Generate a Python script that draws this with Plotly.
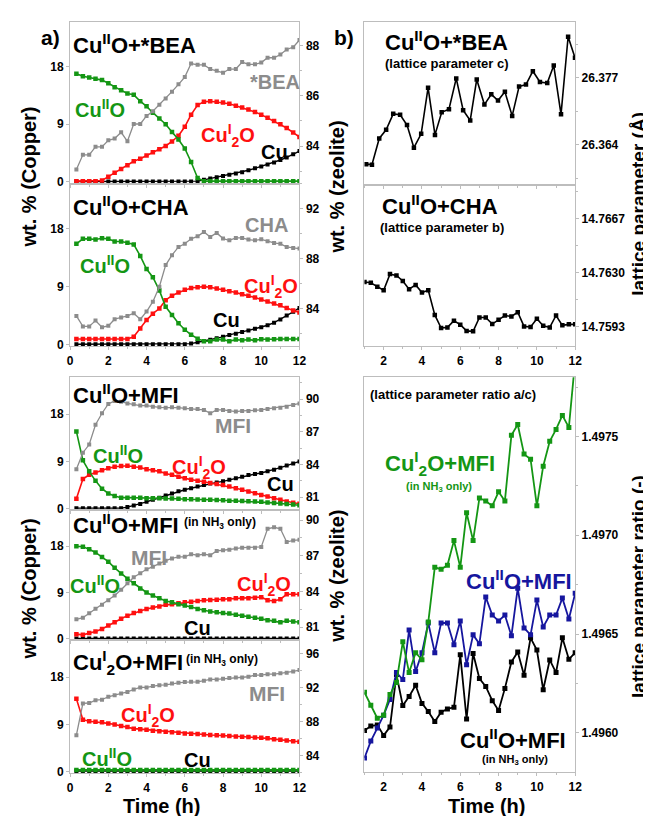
import plotly.graph_objects as go

# ---------------- data ----------------
T_LEFT = [0.33, 0.67, 1.0, 1.33, 1.67, 2.0, 2.33, 2.67, 3.0, 3.33, 3.67, 4.0,
          4.33, 4.67, 5.0, 5.33, 5.67, 6.0, 6.33, 6.67, 7.0, 7.33, 7.67, 8.0,
          8.33, 8.67, 9.0, 9.33, 9.67, 10.0, 10.33, 10.67, 11.0, 11.33, 11.67, 12.0]
T_RIGHT = [1.0, 1.33, 1.67, 2.0, 2.33, 2.67, 3.0, 3.33, 3.67, 4.0,
           4.33, 4.67, 5.0, 5.33, 5.67, 6.0, 6.33, 6.67, 7.0, 7.33, 7.67, 8.0,
           8.33, 8.67, 9.0, 9.33, 9.67, 10.0, 10.33, 10.67, 11.0, 11.33, 11.67, 12.0]
T_B1 = [1.09, 1.39, 1.77, 2.13, 2.50, 2.86, 3.22, 3.58, 3.96, 4.32, 4.68, 5.03,
        5.41, 5.79, 6.15, 6.52, 6.86, 7.26, 7.62, 7.97, 8.33, 8.71, 9.07, 9.43,
        9.79, 10.16, 10.54, 10.88, 11.26, 11.63, 11.99]

# Panel 1: CuIIO + *BEA
BEA_CUO = [16.9, 16.5, 16.3, 16.1, 15.9, 15.4, 14.8, 14.3, 13.8, 13.6, 12.6, 11.8,
           10.8, 9.9, 9.0, 7.8, 6.6, 5.2, 3.1, 0.6, 0.1, 0.1, 0.1, 0.1,
           0.1, 0.1, 0.1, 0.1, 0.1, 0.1, 0.1, 0.1, 0.1, 0.1, 0.1, 0.1]
BEA_CU2O = [0.1, 0.1, 0.1, 0.1, 0.2, 0.8, 1.4, 2.0, 2.6, 3.2, 3.6, 4.1,
            4.6, 5.1, 5.6, 6.3, 7.2, 8.6, 10.5, 12.0, 12.5, 12.6, 12.5, 12.4,
            12.2, 11.9, 11.6, 11.3, 10.9, 10.5, 10.0, 9.5, 9.0, 8.4, 7.7, 7.0]
BEA_CU = [0.05, 0.05, 0.05, 0.05, 0.05, 0.05, 0.05, 0.05, 0.05, 0.05, 0.05, 0.05,
          0.05, 0.05, 0.05, 0.05, 0.05, 0.05, 0.05, 0.1, 0.3, 0.5, 0.7, 0.9,
          1.1, 1.3, 1.5, 1.8, 2.1, 2.4, 2.7, 3.0, 3.4, 3.8, 4.3, 4.8]
BEA_ZEO = [83.07, 83.65, 83.65, 83.97, 83.97, 84.23, 84.30, 84.55, 84.19, 84.88, 84.88, 85.2,
           85.39, 85.65, 85.9, 86.17, 86.46, 86.75, 87.29, 87.24, 87.24, 87.07, 87.0, 86.92,
           87.07, 87.07, 87.35, 87.26, 87.26, 87.33, 87.52, 87.52, 87.65, 87.85, 87.94, 88.23]

# Panel 2: CuIIO + CHA
CHA_CUO = [15.66, 16.43, 16.43, 16.33, 16.53, 16.43, 16.02, 16.02, 15.82, 15.56, 13.78, 11.73,
           10.46, 8.42, 5.87, 4.59, 3.32, 2.3, 1.53, 0.92, 0.51, 0.51, 0.77, 0.77,
           0.51, 0.77, 0.66, 0.77, 0.66, 0.82, 0.77, 0.82, 0.87, 0.87, 0.87, 0.87]
CHA_CU2O = [0.87, 0.87, 0.87, 0.87, 0.87, 0.87, 0.87, 0.87, 0.87, 1.2, 2.5, 3.8,
            4.8, 5.6, 6.9, 7.6, 8.1, 8.5, 8.8, 8.9, 9.0, 8.9, 8.7, 8.5,
            8.3, 8.1, 7.8, 7.6, 7.3, 7.0, 6.7, 6.4, 6.1, 5.7, 5.3, 5.0]
CHA_CU = [0.05, 0.05, 0.05, 0.05, 0.05, 0.05, 0.05, 0.05, 0.05, 0.05, 0.05, 0.05,
          0.05, 0.05, 0.05, 0.05, 0.05, 0.05, 0.15, 0.35, 0.55, 0.75, 1.0, 1.2,
          1.5, 1.7, 1.95, 2.2, 2.45, 2.7, 3.0, 3.4, 3.9, 4.5, 5.1, 5.7]
CHA_ZEO = [83.44, 82.6, 82.6, 83.07, 82.54, 82.65, 83.18, 83.31, 83.44, 83.66, 83.18, 83.79,
           84.58, 85.77, 87.5, 88.29, 88.95, 89.2, 89.6, 89.8, 90.15, 89.75, 90.07, 89.62,
           89.48, 89.67, 89.67, 89.54, 89.48, 89.56, 89.4, 89.27, 89.2, 88.95, 88.87, 88.82]

# Panel 3: CuIIO + MFI
MFI_CUO = [14.7, 9.2, 7.1, 5.3, 3.8, 2.9, 2.4, 2.1, 2.1, 2.1, 2.1, 2.0,
           2.0, 2.0, 1.95, 1.95, 1.9, 1.8, 1.8, 1.75, 1.7, 1.7, 1.65, 1.6,
           1.5, 1.5, 1.45, 1.4, 1.35, 1.3, 1.2, 1.1, 1.0, 0.9, 0.8, 0.65]
MFI_CU2O = [1.88, 5.65, 6.46, 6.9, 7.3, 7.7, 7.97, 8.1, 8.16, 7.97, 7.84, 7.5,
            7.3, 7.1, 6.7, 6.46, 6.1, 5.77, 5.5, 5.33, 5.14, 4.9, 4.7, 4.5,
            4.2, 3.9, 3.6, 3.26, 2.95, 2.6, 2.3, 2.0, 1.7, 1.38, 1.13, 0.94]
MFI_CU = [0.1, 0.1, 0.1, 0.1, 0.1, 0.1, 0.1, 0.1, 0.3, 0.6, 0.9, 1.3,
          1.7, 2.1, 2.5, 2.9, 3.3, 3.6, 3.9, 4.2, 4.5, 4.8, 5.0, 5.2,
          5.5, 5.8, 6.1, 6.4, 6.6, 6.8, 7.1, 7.4, 7.8, 8.2, 8.6, 9.0]
MFI_ZEO = [83.56, 85.08, 85.83, 87.64, 88.7, 89.55, 89.82, 89.76, 89.6, 89.52, 89.4, 89.4,
           89.3, 89.24, 89.21, 89.24, 89.21, 89.15, 89.09, 89.09, 89.0, 88.7, 89.0, 89.0,
           88.91, 88.85, 88.91, 88.91, 88.97, 89.0, 89.09, 89.15, 89.21, 89.3, 89.46, 89.6]

# Panel 4: CuIIO + MFI (in NH3 only)
NH3_CUO = [18.0, 17.9, 17.4, 16.8, 15.9, 15.0, 13.8, 12.7, 11.7, 10.8, 9.8, 9.0,
           8.4, 7.9, 7.35, 7.1, 6.7, 6.45, 6.2, 5.8, 5.55, 5.3, 5.16, 5.03,
           4.9, 4.65, 4.5, 4.3, 4.1, 3.9, 3.6, 3.5, 3.2, 3.5, 3.35, 3.2]
NH3_CU2O = [0.9, 0.77, 1.1, 1.4, 1.9, 2.6, 3.2, 3.9, 4.5, 5.0, 5.4, 5.8,
            6.1, 6.26, 6.6, 6.7, 6.9, 7.1, 7.2, 7.35, 7.5, 7.55, 7.6, 7.7,
            7.7, 7.87, 7.87, 7.87, 8.0, 8.1, 7.5, 7.35, 7.7, 8.65, 8.65, 8.65]
NH3_CU = [0.05, 0.05, 0.05, 0.05, 0.05, 0.05, 0.05, 0.05, 0.05, 0.05, 0.05, 0.05,
          0.05, 0.05, 0.05, 0.05, 0.05, 0.05, 0.05, 0.05, 0.05, 0.05, 0.05, 0.05,
          0.05, 0.05, 0.05, 0.05, 0.05, 0.05, 0.05, 0.05, 0.05, 0.05, 0.05, 0.05]
NH3_ZEO = [81.67, 81.8, 82.17, 82.55, 82.9, 83.27, 83.66, 84.15, 84.7, 85.2, 85.54, 85.87,
           86.09, 86.36, 86.59, 86.78, 86.92, 86.92, 87.14, 87.05, 87.14, 87.05, 87.41, 87.47,
           87.52, 87.61, 87.69, 87.69, 87.69, 87.75, 89.27, 89.4, 89.27, 88.16, 88.3, 88.35]

# Panel 5: CuI2O + MFI (in NH3 only)
C1_CUO = [0.35, 0.35, 0.35, 0.35, 0.35, 0.35, 0.35, 0.35, 0.35, 0.35, 0.35, 0.35,
          0.35, 0.35, 0.35, 0.35, 0.35, 0.35, 0.35, 0.35, 0.35, 0.35, 0.35, 0.35,
          0.35, 0.35, 0.35, 0.35, 0.35, 0.35, 0.35, 0.35, 0.35, 0.35, 0.35, 0.35]
C1_CU2O = [13.9, 9.9, 9.6, 9.5, 9.4, 9.2, 9.0, 8.7, 8.5, 8.2, 8.1, 8.0,
           7.8, 7.7, 7.6, 7.5, 7.4, 7.3, 7.25, 7.2, 7.1, 7.0, 6.95, 6.9,
           6.8, 6.7, 6.65, 6.6, 6.5, 6.45, 6.35, 6.2, 6.1, 5.95, 5.8, 5.7]
C1_CU = [0.15, 0.15, 0.15, 0.15, 0.15, 0.15, 0.15, 0.15, 0.15, 0.15, 0.15, 0.15,
         0.15, 0.15, 0.15, 0.15, 0.15, 0.15, 0.15, 0.15, 0.15, 0.15, 0.15, 0.15,
         0.15, 0.15, 0.15, 0.15, 0.15, 0.15, 0.15, 0.15, 0.15, 0.15, 0.15, 0.15]
C1_ZEO = [86.4, 90.15, 90.2, 90.54, 90.6, 90.94, 91.13, 91.33, 91.5, 91.8, 92.04, 92.04,
          92.2, 92.3, 92.35, 92.5, 92.58, 92.67, 92.7, 92.7, 92.83, 92.98, 92.98, 93.06,
          93.14, 93.22, 93.22, 93.3, 93.5, 93.5, 93.6, 93.6, 93.7, 93.78, 93.93, 94.09]

# b) lattice parameters
BEA_C = [26.3602, 26.3601, 26.3652, 26.3669, 26.3700, 26.3698, 26.3678, 26.3634, 26.3661,
         26.3751, 26.3659, 26.3703, 26.3709, 26.3769, 26.3707, 26.3687, 26.3767, 26.3718,
         26.3738, 26.3726, 26.3743, 26.3696, 26.3753, 26.3757, 26.3783, 26.3762, 26.3760,
         26.3794, 26.3699, 26.3850, 26.3809]
CHA_B = [14.76237, 14.76232, 14.76205, 14.76180, 14.76291, 14.76282, 14.76244, 14.76187,
         14.76217, 14.76165, 14.76180, 14.76011, 14.75921, 14.75925, 14.75971, 14.75944,
         14.75901, 14.75898, 14.75993, 14.75993, 14.75948, 14.75977, 14.76007, 14.76000,
         14.76029, 14.75932, 14.75928, 14.75984, 14.75937, 14.75925, 14.76007, 14.75939,
         14.75946, 14.75946]
RATIO_CU2O_NH3 = [1.496205, 1.496139, 1.496074, 1.496089, 1.496194, 1.496255, 1.496461, 1.496305,
                  1.496406, 1.496370, 1.496561, 1.496838, 1.496828, 1.496848, 1.496973, 1.496838,
                  1.497114, 1.496973, 1.497189, 1.497174, 1.497149, 1.497220, 1.497174, 1.497506,
                  1.497561, 1.497411, 1.497385, 1.497149, 1.497350, 1.497476, 1.497536, 1.497607,
                  1.497546, 1.497888]
RATIO_CUO = [1.495873, 1.495958, 1.496024, 1.496089, 1.496169, 1.496305, 1.496270, 1.496521,
             1.496310, 1.496406, 1.496556, 1.496406, 1.496556, 1.496556, 1.496446, 1.496566,
             1.496345, 1.496496, 1.496451, 1.496687, 1.496596, 1.496566, 1.496596, 1.496491,
             1.496732, 1.496531, 1.496496, 1.496672, 1.496536, 1.496596, 1.496596, 1.496682,
             1.496576, 1.496707]
RATIO_CUO_NH3 = [1.496012, 1.496034, 1.496040, 1.495987, 1.496029, 1.496295, 1.496138, 1.496184,
                 1.496241, 1.496149, 1.496108, 1.496057, 1.496104, 1.496121, 1.496129, 1.496395,
                 1.496070, 1.496402, 1.496275, 1.496235, 1.496163, 1.496113, 1.496225, 1.496359,
                 1.496409, 1.496291, 1.496481, 1.496419, 1.496218, 1.496369, 1.496305, 1.496481,
                 1.496372, 1.496406]

# ---------------- layout helpers ----------------
W, H = 651, 816
FONT = "Liberation Sans, Arial, sans-serif"
GREEN = "#149614"
RED = "#ff1010"
BLACK = "#000000"
GREY = "#8c8c8c"
BLUE = "#16169e"
FRAME = "#bdbdbd"


def fx(p):
    return p / W


def fy(p):
    return 1 - p / H


fig = go.Figure()


def add(x, y, xa, ya, color, size=4.5, width=1.6):
    fig.add_trace(go.Scatter(
        x=x, y=y, xaxis=xa, yaxis=ya, mode="lines+markers",
        line=dict(color=color, width=width),
        marker=dict(symbol="square", size=size, color=color, line=dict(width=0)),
        showlegend=False, hoverinfo="skip"))


tickfont = dict(family=FONT, size=12, color="black", weight="bold")
base = dict(showline=True, linecolor=FRAME, linewidth=1, showgrid=False, zeroline=False,
            ticks="outside", ticklen=3, tickcolor=FRAME, tickfont=tickfont)

LX = [60, 293]
RX = [359, 573]
LEFT_PANELS = [
    # top, bottom, right range, tick0, dtick, show x labels
    (14, 177, [82.5, 88.95], 84, 2, False),
    (177, 341, [81, 94], 84, 4, True),
    (372, 506, [79.8, 92], 81, 3, False),
    (506, 637, [79.9, 90.83], 81, 3, False),
    (637, 771, [81.9, 97.6], 84, 4, True),
]
layout = dict(width=W, height=H, margin=dict(l=0, r=0, t=0, b=0), autosize=False,
              paper_bgcolor="white", plot_bgcolor="rgba(0,0,0,0)", showlegend=False)

for i, (top, bot, rr, t0, dt, showx) in enumerate(LEFT_PANELS):
    xi = i + 1
    yl = 2 * i + 1
    yr = 2 * i + 2
    dom = [fy(bot), fy(top)]
    layout["xaxis" + (str(xi) if xi > 1 else "")] = dict(
        base, domain=[fx(LX[0]), fx(LX[1])], anchor="y" + (str(yl) if yl > 1 else ""),
        range=[0, 12], dtick=2, tick0=0, showticklabels=showx, mirror=True,
        minor=dict(dtick=1, tick0=0, ticks="outside", ticklen=2, tickcolor=FRAME))
    layout["yaxis" + (str(yl) if yl > 1 else "")] = dict(
        base, domain=dom, anchor="x" + (str(xi) if xi > 1 else ""), range=[-0.3, 25],
        tickmode="array", tickvals=[0, 9, 18], mirror=True)
    layout["yaxis" + str(yr)] = dict(
        base, domain=dom, anchor="x" + (str(xi) if xi > 1 else ""),
        overlaying="y" + (str(yl) if yl > 1 else ""), side="right", range=rr,
        tick0=t0, dtick=dt, minor=dict(tick0=t0, dtick=dt / 2, ticks="outside", ticklen=2, tickcolor=FRAME))

RIGHT_PANELS = [
    (14, 178, [26.3562, 26.3879], 26.364, 0.013, ".3f", False),
    (178, 341, [14.75794, 14.76905], 14.7593, 0.0037, ".4f", True),
    (372, 770, [1.4958, 1.4978], 1.4960, 0.0005, ".4f", True),
]
for j, (top, bot, rr, t0, dt, fmt, showx) in enumerate(RIGHT_PANELS):
    xi = 6 + j
    yi = 11 + j
    dom = [fy(bot), fy(top)]
    layout["xaxis" + str(xi)] = dict(
        base, domain=[fx(RX[0]), fx(RX[1])], anchor="y" + str(yi), range=[1, 12],
        tick0=0, dtick=2, showticklabels=showx, mirror=True,
        minor=dict(dtick=1, tick0=0, ticks="outside", ticklen=2, tickcolor=FRAME))
    layout["yaxis" + str(yi)] = dict(
        base, domain=dom, anchor="x" + str(xi), side="right", range=rr, tick0=t0, dtick=dt,
        tickformat=fmt, mirror=True,
        minor=dict(tick0=t0, dtick=dt / 2, ticks="outside", ticklen=2, tickcolor=FRAME))

fig.update_layout(**layout)

# ---------------- traces ----------------
PANEL_DATA = [
    (BEA_ZEO, BEA_CUO, BEA_CU2O, BEA_CU),
    (CHA_ZEO, CHA_CUO, CHA_CU2O, CHA_CU),
    (MFI_ZEO, MFI_CUO, MFI_CU2O, MFI_CU),
    (NH3_ZEO, NH3_CUO, NH3_CU2O, NH3_CU),
    (C1_ZEO, C1_CUO, C1_CU2O, C1_CU),
]
for i, (zeo, cuo, cu2o, cu) in enumerate(PANEL_DATA):
    xa = "x" + (str(i + 1) if i > 0 else "")
    yl = "y" + (str(2 * i + 1) if i > 0 else "")
    yr = "y" + str(2 * i + 2)
    add(T_LEFT, zeo, xa, yr, GREY, size=4, width=1.3)
    add(T_LEFT, cu, xa, yl, BLACK, size=4, width=1.4)
    add(T_LEFT, cu2o, xa, yl, RED)
    add(T_LEFT, cuo, xa, yl, GREEN)

add(T_B1, BEA_C, "x6", "y11", BLACK, size=4.5, width=1.6)
add(T_RIGHT, CHA_B, "x7", "y12", BLACK, size=4.5, width=1.6)
add(T_RIGHT, RATIO_CUO_NH3, "x8", "y13", BLACK, size=5, width=1.8)
add(T_RIGHT, RATIO_CUO, "x8", "y13", BLUE, size=5, width=1.8)
add(T_RIGHT, RATIO_CU2O_NH3, "x8", "y13", GREEN, size=5, width=1.8)

# ---------------- text ----------------
ann = []


def text(t, x, y, size, color="black", anchor="left", angle=0):
    ann.append(dict(text="<b>" + t + "</b>", x=fx(x), y=fy(y), xref="paper", yref="paper",
                    xanchor=anchor, yanchor="middle", showarrow=False, textangle=angle,
                    font=dict(family=FONT, size=size, color=color)))


CUO = "Cu<sup>II</sup>O"
CU2O = "Cu<sup>I</sup><sub>2</sub>O"
NH3 = "(in NH<sub>3</sub> only)"

text("a)", 28, 30, 21)
text("b)", 326, 30, 21)

# panel 1
text(CUO + "+*BEA", 61, 36, 22)
text(CUO, 63, 101, 20, GREEN)
text("*BEA", 241, 75, 20, GREY)
text(CU2O, 191, 128, 20, RED)
text("Cu", 252, 145, 20)
# panel 2
text(CUO + "+CHA", 61, 199, 22)
text("CHA", 236, 219, 20, GREY)
text(CUO, 68, 258, 20, GREEN)
text(CU2O, 235, 281, 20, RED)
text("Cu", 203, 314, 20)
# panel 3
text(CUO + "+MFI", 61, 389, 22)
text("MFI", 205, 421, 21, GREY)
text(CUO, 81, 450, 20, GREEN)
text(CU2O, 161, 463, 20, RED)
text("Cu", 258, 480, 20)
# panel 4
text(CUO + "+MFI", 61, 520, 22)
text(NH3, 174, 519, 12)
text("MFI", 120, 554, 21, GREY)
text(CUO, 58, 581, 20, GREEN)
text(CU2O, 228, 581, 20, RED)
text("Cu", 174, 625, 20)
# panel 5
text(CU2O + "+MFI", 61, 659, 22)
text(NH3, 176, 657, 12)
text("MFI", 240, 691, 21, GREY)
text(CU2O, 110, 713, 20, RED)
text(CUO, 70, 755, 20, GREEN)
text("Cu", 174, 758, 20)

# b panels
text(CUO + "+*BEA", 378, 33, 22)
text("(lattice parameter c)", 378, 56, 13)
text(CUO + "+CHA", 375, 198, 22)
text("(lattice parameter b)", 373, 221, 13)
text("(lattice parameter ratio a/c)", 363, 389, 13)
text(CU2O + "+MFI", 378, 459, 22, GREEN)
text(NH3, 399, 483, 11, GREEN)
text(CUO + "+MFI", 460, 576, 22, BLUE)
text(CUO + "+MFI", 454, 736, 22, BLACK)
text(NH3, 476, 758, 11, BLACK)

# axis titles
text("wt. % (Copper)", 18, 170, 20, anchor="center", angle=-90)
text("wt. % (Copper)", 18, 585, 20, anchor="center", angle=-90)
text("wt. % (zeolite)", 331, 180, 20, anchor="center", angle=-90)
text("wt. % (zeolite)", 331, 572, 20, anchor="center", angle=-90)
text("lattice parameter (Å)", 637, 197, 19, anchor="center", angle=-90)
text("lattice parameter ratio (-)", 637, 583, 19, anchor="center", angle=-90)
text("Time (h)", 153, 804, 20, anchor="center")
text("Time (h)", 483, 804, 20, anchor="center")

fig.update_layout(annotations=ann)
fig.write_html("out.html")
